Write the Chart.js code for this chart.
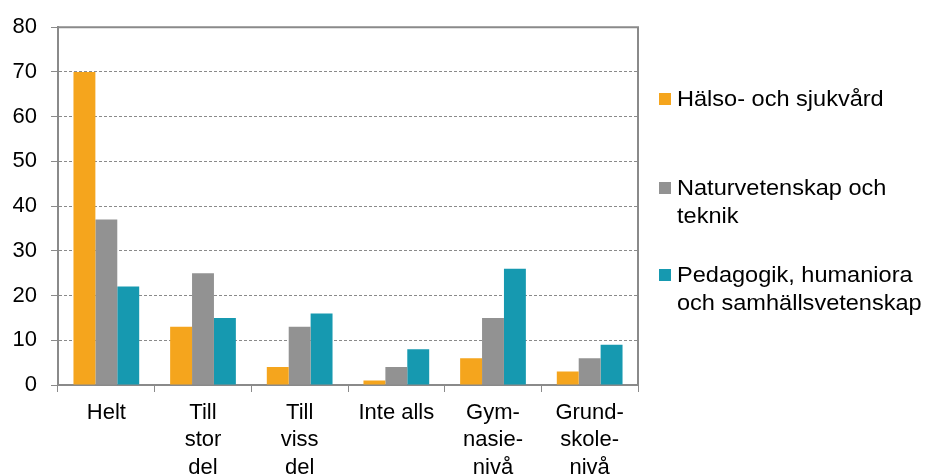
<!DOCTYPE html>
<html>
<head>
<meta charset="utf-8">
<script src="https://cdn.jsdelivr.net/npm/chart.js@4"></script>
<style>
  body { margin: 0; background: #fff; }
  #wrap { position: relative; width: 928px; height: 475px; }
  #legend { position: absolute; left: 659px; top: 0; }
  .item { position: absolute; left: 0; width: 270px; display: flex; align-items: flex-start;
          font: 22px 'Liberation Sans', Arial, sans-serif; line-height: 28px; color: #000; }
  .box { width: 12px; height: 12px; margin-top: 8px; margin-right: 6px; flex: none; }
  .txt { width: 240px; transform: scaleX(1.07); transform-origin: left top; }
</style>
</head>
<body>
<div id="wrap">
  <canvas id="chart" width="928" height="475"></canvas>
  <div id="legend"></div>
</div>
<script>
// categories (x axis, multi-line)
const categories = [
    ['Helt'],
    ['Till', 'stor', 'del'],
    ['Till', 'viss', 'del'],
    ['Inte alls'],
    ['Gym-', 'nasie-', 'nivå'],
    ['Grund-', 'skole-', 'nivå']
];

// series
const seriesNames = ['Hälso- och sjukvård', 'Naturvetenskap och teknik', 'Pedagogik, humaniora och samhällsvetenskap'];
const halsoValues = [70, 13, 4, 1, 6, 3];
const naturValues = [37, 25, 13, 4, 15, 6];
const pedagogikValues = [22, 15, 16, 8, 26, 9];
const seriesColors = ['#F5A51D', '#929292', '#1699B0'];

// y axis
const yMin = 0;
const yMax = 80;
const yStep = 10;

const gridGray = '#8a8a8a';
const fontFamily = "'Liberation Sans', Arial, sans-serif";

// solid frame on top and right of the plot area
const frameLines = {
    id: 'frameLines',
    afterDraw(chart) {
        const { ctx, chartArea } = chart;
        ctx.save();
        ctx.strokeStyle = gridGray;
        ctx.lineWidth = 2;
        ctx.beginPath();
        ctx.moveTo(chartArea.left, chartArea.top);
        ctx.lineTo(chartArea.right, chartArea.top);
        ctx.lineTo(chartArea.right, chartArea.bottom);
        ctx.stroke();
        ctx.restore();
    }
};

const seriesValues = [halsoValues, naturValues, pedagogikValues];

new Chart(document.getElementById('chart').getContext('2d'), {
    type: 'bar',
    data: {
        labels: categories,
        datasets: seriesNames.map((name, i) => ({
            label: name,
            data: seriesValues[i],
            backgroundColor: seriesColors[i],
            borderWidth: 0,
            categoryPercentage: 0.68,
            barPercentage: 1
        }))
    },
    options: {
        responsive: false,
        animation: false,
        layout: { padding: { left: 0, right: 290, top: 26, bottom: 0 } },
        plugins: { legend: { display: false }, tooltip: { enabled: false } },
        scales: {
            x: {
                grid: { display: true, drawOnChartArea: false, drawTicks: true, tickLength: 7, color: gridGray, tickColor: gridGray, tickWidth: 1 },
                border: { display: true, color: gridGray, width: 2 },
                ticks: {
                    color: '#000',
                    font: { family: fontFamily, size: 22, lineHeight: 1.25 },
                    padding: 7,
                    maxRotation: 0,
                    autoSkip: false
                },
                afterFit(scale) { scale.height = 90; }
            },
            y: {
                min: yMin,
                max: yMax,
                grid: { color: gridGray, lineWidth: 1, tickLength: 7, tickColor: gridGray, tickBorderDash: [] },
                border: { display: true, color: gridGray, width: 2, dash: [3, 2] },
                ticks: {
                    stepSize: yStep,
                    color: '#000',
                    font: { family: fontFamily, size: 22 },
                    padding: 14
                },
                afterFit(scale) { scale.width = 58; }
            }
        }
    },
    plugins: [frameLines]
});

// legend in HTML so the long names can wrap
const legendTops = [85, 174, 261];
const legend = document.getElementById('legend');
seriesNames.forEach((name, i) => {
    const item = document.createElement('div');
    item.className = 'item';
    item.style.top = legendTops[i] + 'px';
    const box = document.createElement('span');
    box.className = 'box';
    box.style.background = seriesColors[i];
    const txt = document.createElement('span');
    txt.className = 'txt';
    txt.textContent = name;
    item.appendChild(box);
    item.appendChild(txt);
    legend.appendChild(item);
});
</script>
</body>
</html>
